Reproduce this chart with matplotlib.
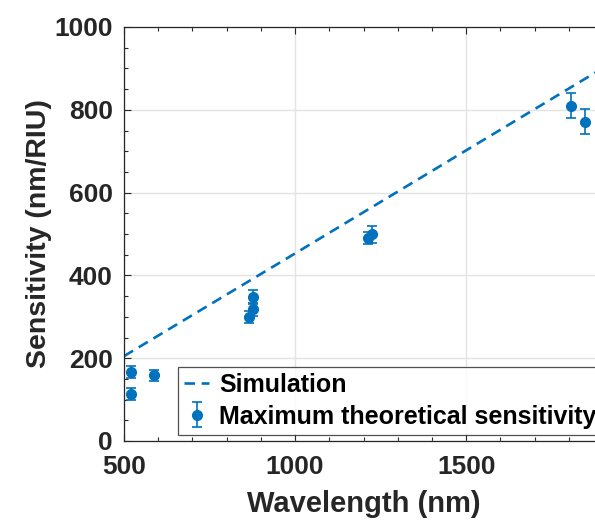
import matplotlib.pyplot as plt
from matplotlib.ticker import MultipleLocator

plt.rcParams['font.family'] = ['Liberation Sans', 'DejaVu Sans']
plt.rcParams['font.weight'] = 'bold'

# simulated sensitivity line
sim_wl = [500, 1000, 1500, 1900]
sim_sens = [205, 453, 702, 901]

# measured maximum theoretical sensitivity with error bars
meas_wl = [521, 521, 589, 865, 877, 877, 1212, 1224, 1807, 1848]
meas_sens = [167, 113, 159, 300, 318, 348, 490, 499, 810, 771]
meas_err = [15, 15, 13, 15, 15, 16, 15, 21, 30, 30]

blue = '#0072BD'
dark = '#262626'

fig = plt.figure(figsize=(5.95, 5.22), dpi=100)
ax = fig.add_axes([124 / 595, 81 / 522, 479 / 595, 414 / 522])

ax.plot(sim_wl, sim_sens, linestyle=(0, (4, 2.5)), color=blue, lw=1.9,
        label='Simulation')
ax.errorbar(meas_wl, meas_sens, yerr=meas_err, fmt='o', color=blue,
            markersize=7, capsize=3.5, elinewidth=1.2, capthick=1.2,
            label='Maximum theoretical sensitivity')

ax.set_xlim(500, 1900)
ax.set_ylim(0, 1000)
ax.xaxis.set_major_locator(MultipleLocator(500))
ax.xaxis.set_minor_locator(MultipleLocator(100))
ax.yaxis.set_major_locator(MultipleLocator(200))
ax.yaxis.set_minor_locator(MultipleLocator(50))
ax.grid(True, which='major', color='#e3e3e3', lw=1)
ax.set_axisbelow(True)

ax.tick_params(which='both', direction='in', top=True, right=True,
               colors=dark, labelsize=19, width=0.8)
ax.tick_params(which='major', length=5, pad=8)
ax.tick_params(axis='x', which='major', pad=10)
ax.tick_params(which='minor', length=3)
for s in ax.spines.values():
    s.set_color(dark)
    s.set_linewidth(0.9)

ax.set_xlabel('Wavelength (nm)', fontsize=21, fontweight='bold', color=dark,
              labelpad=8)
ax.set_ylabel('Sensitivity (nm/RIU)', fontsize=20.5, fontweight='bold',
              color=dark, labelpad=2)

leg = ax.legend(loc='upper left', bbox_to_anchor=(0.113, 0.179),
                borderaxespad=0, fontsize=18, frameon=True, fancybox=False,
                edgecolor=dark, handlelength=1.0, handletextpad=0.4,
                borderpad=0.25, labelspacing=0.3)
leg.get_frame().set_linewidth(0.9)
for t in leg.get_texts():
    t.set_fontweight('bold')
    t.set_color('black')

fig.savefig('out.png', dpi=100)
